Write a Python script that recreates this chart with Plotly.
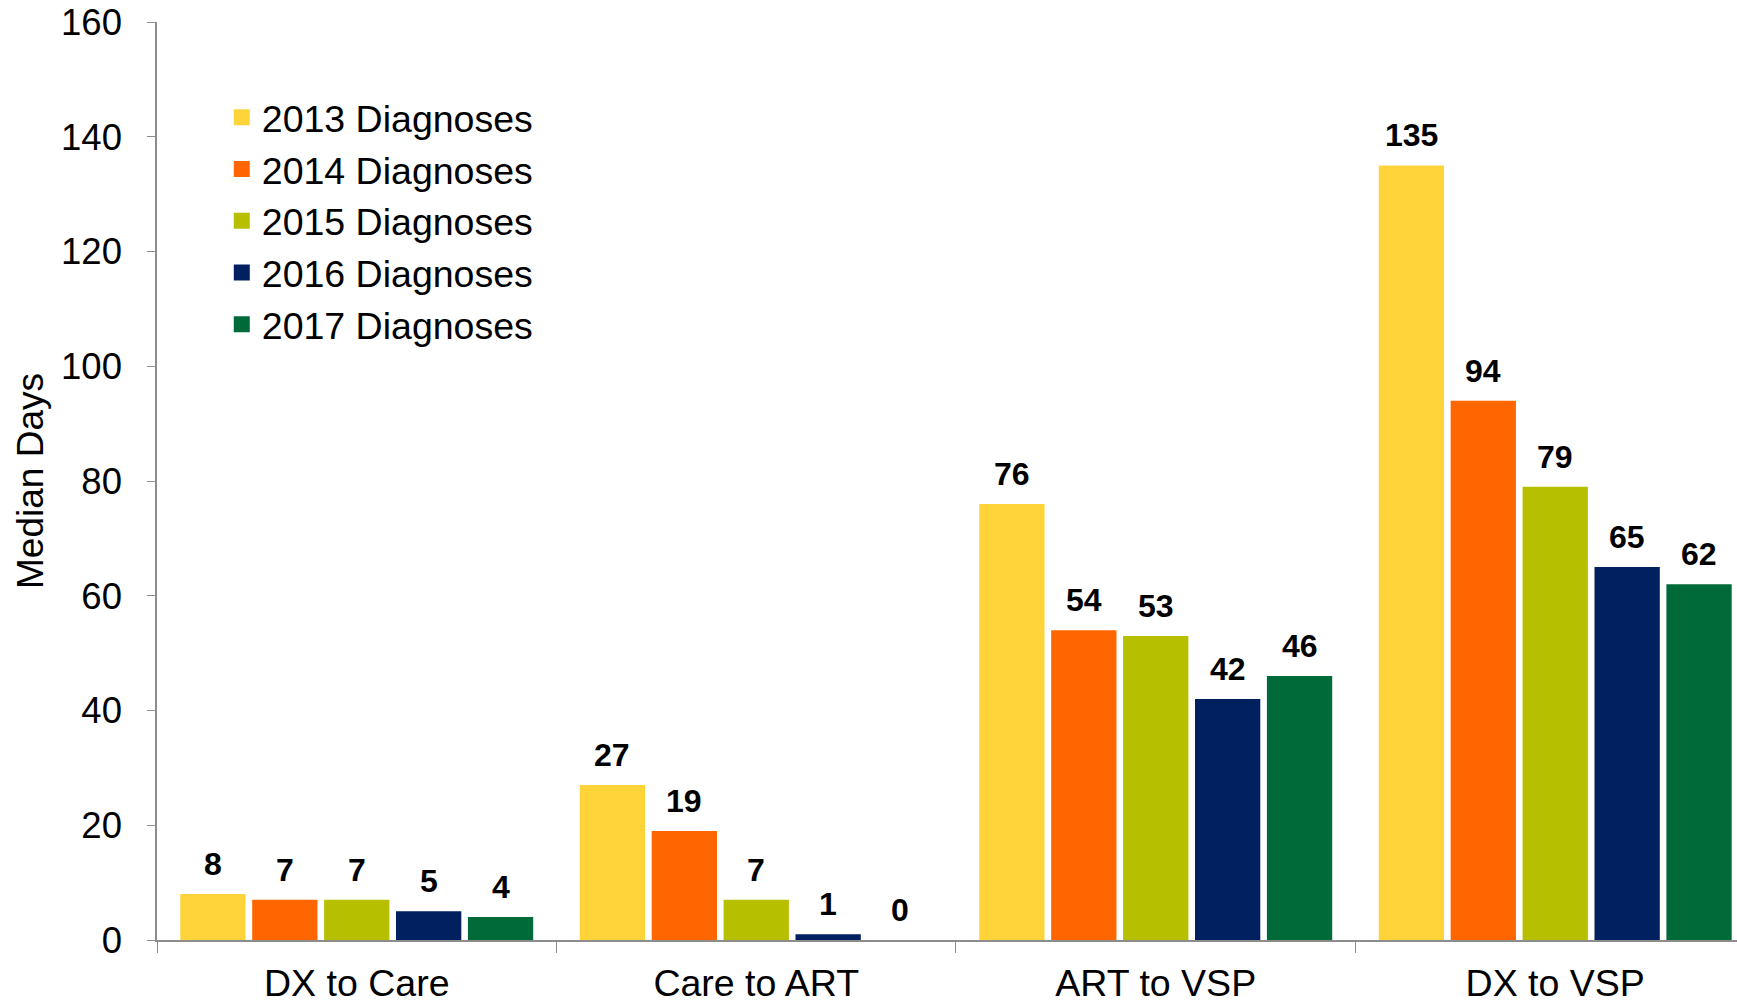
import plotly.graph_objects as go

categories = ["DX to Care", "Care to ART", "ART to VSP", "DX to VSP"]
series_names = ["2013 Diagnoses", "2014 Diagnoses", "2015 Diagnoses", "2016 Diagnoses", "2017 Diagnoses"]
v2013 = [8, 27, 76, 135]
v2014 = [7, 19, 54, 94]
v2015 = [7, 7, 53, 79]
v2016 = [5, 1, 42, 65]
v2017 = [4, 0, 46, 62]
y_ticks = [0, 20, 40, 60, 80, 100, 120, 140, 160]

series_values = [v2013, v2014, v2015, v2016, v2017]
colors = ["#FFD43B", "#FF6600", "#B6BF00", "#00205F", "#006A39"]

FONT = "Arial, 'Liberation Sans', sans-serif"
BARGAP = 0.10
GROUPGAP = 0.092

fig = go.Figure()
for name, vals, col in zip(series_names, series_values, colors):
    fig.add_trace(go.Bar(
        x=categories, y=vals, name=name,
        marker=dict(color=col, line=dict(width=0)),
        showlegend=False,
    ))
    # legend proxy with larger square marker
    fig.add_trace(go.Scatter(
        x=[None], y=[None], mode="markers", name=name,
        marker=dict(symbol="square", size=16, color=col),
        showlegend=True,
    ))

# value labels above bars (positions derived from bar layout)
n = len(series_values)
slot = (1 - BARGAP) / n
for i, vals in enumerate(series_values):
    for j, v in enumerate(vals):
        fig.add_annotation(
            x=j + (i - (n - 1) / 2) * slot, y=v, xref="x", yref="y",
            text="<b>%d</b>" % v, showarrow=False,
            yanchor="bottom", yshift=10,
            font=dict(family=FONT, size=32, color="black"),
        )

fig.update_layout(
    width=1737, height=1004,
    margin=dict(l=157, r=0, t=22, b=61),
    paper_bgcolor="white", plot_bgcolor="white",
    barmode="group", bargap=BARGAP, bargroupgap=GROUPGAP,
    font=dict(family=FONT, size=36, color="black"),
    legend=dict(
        x=0.041, y=0.93, xanchor="left", yanchor="top",
        font=dict(family=FONT, size=37.5, color="black"),
        bgcolor="rgba(0,0,0,0)", tracegroupgap=0,
    ),
    xaxis=dict(
        type="category", range=[-0.5, 3.455],
        showline=True, linecolor="#8C8C8C", linewidth=1.5,
        ticks="outside", tickson="boundaries", ticklen=11, tickcolor="#8C8C8C",
        showgrid=False, zeroline=False, ticklabelstandoff=9,
        tickfont=dict(family=FONT, size=37.5, color="black"),
    ),
    yaxis=dict(
        range=[0, 160], tickvals=y_ticks,
        showline=True, linecolor="#8C8C8C", linewidth=1.5,
        ticks="outside", ticklen=8, tickcolor="#8C8C8C",
        showgrid=False, zeroline=False, ticklabelstandoff=18,
        tickfont=dict(family=FONT, size=36.5, color="black"),
        title=dict(text="Median Days", font=dict(family=FONT, size=37, color="black"), standoff=6),
    ),
)

fig.write_html("out.html")
